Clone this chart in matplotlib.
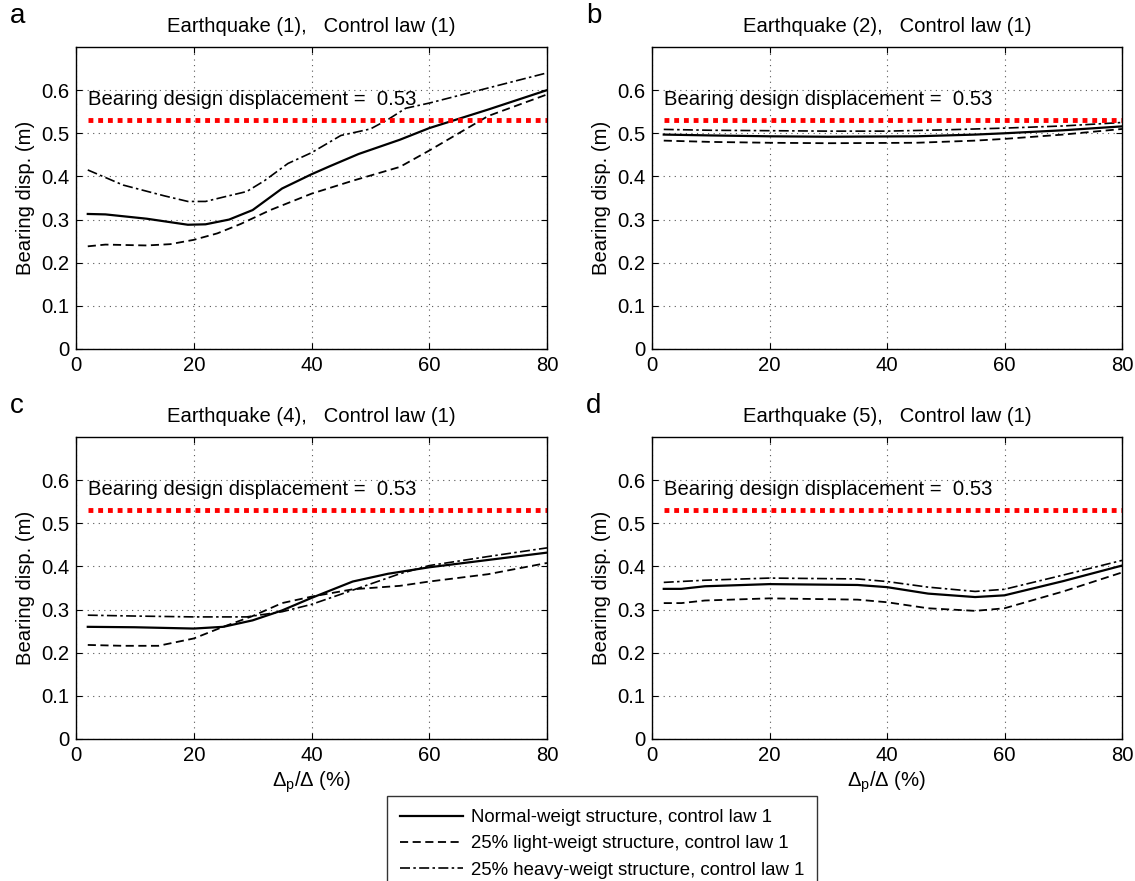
import matplotlib
matplotlib.use("Agg")
import matplotlib.pyplot as plt
from matplotlib.lines import Line2D

plt.rcParams['font.family'] = ['Liberation Sans', 'DejaVu Sans']
plt.rcParams['mathtext.fontset'] = 'custom'
plt.rcParams['mathtext.rm'] = 'Liberation Sans'
plt.rcParams['mathtext.it'] = 'Liberation Sans'
plt.rcParams['mathtext.default'] = 'regular'

# Panel a: Earthquake (1)
a_normal_x = [2, 5, 12, 19, 22, 26, 30, 35, 40, 43, 48, 55, 60, 70, 80]
a_normal_y = [0.313, 0.312, 0.302, 0.288, 0.289, 0.300, 0.322, 0.372, 0.405, 0.423, 0.452, 0.485, 0.512, 0.555, 0.600]
a_light_x = [2, 5, 12, 16, 20, 24, 28, 33, 40, 47, 55, 60, 65, 70, 80]
a_light_y = [0.238, 0.242, 0.240, 0.243, 0.253, 0.268, 0.290, 0.322, 0.360, 0.390, 0.422, 0.460, 0.500, 0.540, 0.590]
a_heavy_x = [2, 8, 15, 19, 22, 25, 29, 32, 36, 40, 45, 50, 53, 56, 60, 70, 80]
a_heavy_y = [0.415, 0.380, 0.355, 0.342, 0.342, 0.352, 0.365, 0.390, 0.430, 0.455, 0.495, 0.510, 0.532, 0.558, 0.570, 0.605, 0.640]

# Panel b: Earthquake (2)
b_normal_x = [2, 10, 20, 30, 45, 55, 60, 70, 80]
b_normal_y = [0.497, 0.495, 0.493, 0.492, 0.493, 0.497, 0.500, 0.507, 0.516]
b_light_x = [2, 10, 20, 30, 45, 55, 60, 70, 80]
b_light_y = [0.483, 0.480, 0.478, 0.477, 0.478, 0.483, 0.487, 0.497, 0.510]
b_heavy_x = [2, 10, 20, 30, 40, 50, 60, 70, 80]
b_heavy_y = [0.509, 0.507, 0.506, 0.505, 0.505, 0.508, 0.512, 0.517, 0.525]

# Panel c: Earthquake (4)
c_normal_x = [2, 10, 20, 25, 30, 35, 40, 47, 53, 60, 70, 80]
c_normal_y = [0.260, 0.259, 0.256, 0.260, 0.275, 0.298, 0.327, 0.365, 0.383, 0.398, 0.415, 0.432]
c_light_x = [2, 8, 14, 20, 25, 30, 35, 40, 47, 55, 60, 70, 80]
c_light_y = [0.218, 0.216, 0.216, 0.233, 0.260, 0.285, 0.315, 0.330, 0.347, 0.355, 0.365, 0.382, 0.408]
c_heavy_x = [2, 10, 20, 29, 35, 40, 47, 55, 60, 70, 80]
c_heavy_y = [0.287, 0.285, 0.283, 0.283, 0.295, 0.312, 0.345, 0.383, 0.402, 0.423, 0.443]

# Panel d: Earthquake (5)
d_normal_x = [2, 5, 9, 20, 35, 40, 47, 55, 60, 70, 80]
d_normal_y = [0.348, 0.348, 0.354, 0.359, 0.357, 0.352, 0.337, 0.329, 0.333, 0.366, 0.402]
d_light_x = [2, 5, 9, 20, 35, 40, 47, 55, 60, 70, 80]
d_light_y = [0.315, 0.315, 0.321, 0.326, 0.323, 0.317, 0.303, 0.297, 0.303, 0.342, 0.386]
d_heavy_x = [2, 9, 20, 35, 40, 47, 55, 60, 70, 80]
d_heavy_y = [0.363, 0.368, 0.373, 0.371, 0.365, 0.352, 0.342, 0.347, 0.380, 0.414]

design_disp = 0.53
design_x = [2, 80]
x_ticks = [0, 20, 40, 60, 80]
y_ticks = [0, 0.1, 0.2, 0.3, 0.4, 0.5, 0.6]
y_tick_labels = ['0', '0.1', '0.2', '0.3', '0.4', '0.5', '0.6']

panel_letters = ['a', 'b', 'c', 'd']
panel_titles = ['Earthquake (1),   Control law (1)', 'Earthquake (2),   Control law (1)',
                'Earthquake (4),   Control law (1)', 'Earthquake (5),   Control law (1)']
legend_labels = ['Normal-weigt structure, control law 1',
                 '25% light-weigt structure, control law 1',
                 '25% heavy-weigt structure, control law 1']

panels = [
    ((a_normal_x, a_normal_y), (a_light_x, a_light_y), (a_heavy_x, a_heavy_y)),
    ((b_normal_x, b_normal_y), (b_light_x, b_light_y), (b_heavy_x, b_heavy_y)),
    ((c_normal_x, c_normal_y), (c_light_x, c_light_y), (c_heavy_x, c_heavy_y)),
    ((d_normal_x, d_normal_y), (d_light_x, d_light_y), (d_heavy_x, d_heavy_y)),
]

W, H = 1135, 881
fig = plt.figure(figsize=(W / 100, H / 100), dpi=100)

# axes rectangles in pixels: left, right, top, bottom
rects = [(76, 547, 47, 349), (652, 1122, 47, 349), (76, 547, 437, 739), (652, 1122, 437, 739)]

styles = [dict(ls='-', lw=1.6), dict(ls=(0, (4.5, 2.5)), lw=1.3), dict(ls=(0, (6, 2, 1.5, 2)), lw=1.2)]

FS = 14.6
for i, ((l, r, t, b), series) in enumerate(zip(rects, panels)):
    ax = fig.add_axes([l / W, 1 - b / H, (r - l) / W, (b - t) / H])
    for (xs, ys), st in zip(series, styles):
        ax.plot(xs, ys, color='black', **st)
    ax.plot(design_x, [design_disp, design_disp], color='red', lw=3.5,
            ls=(0, (1, 1)), dash_capstyle='butt')
    ax.text(2, 0.578, 'Bearing design displacement =  0.53', fontsize=FS,
            va='center', ha='left')
    ax.set_xlim(0, 80)
    ax.set_ylim(0, 0.7)
    ax.set_xticks(x_ticks)
    ax.set_yticks(y_ticks)
    ax.set_yticklabels(y_tick_labels)
    ax.tick_params(direction='in', top=True, right=True, labelsize=FS, length=4, width=0.8,
                   pad=5)
    ax.grid(True, color='#555555', ls=(0, (1, 4)), lw=0.8)
    for sp in ax.spines.values():
        sp.set_linewidth(1.0)
    ax.set_ylabel('Bearing disp. (m)', fontsize=FS, labelpad=4)
    if i >= 2:
        ax.set_xlabel(r'$\Delta_p/\Delta$ (%)', fontsize=FS, labelpad=3)
    ax.set_title(panel_titles[i], fontsize=FS, pad=11)
    fig.text((l - 66) / W, 1 - (t - 31) / H, panel_letters[i], fontsize=20,
             ha='left', va='center')

handles = [Line2D([], [], color='black', **st) for st in styles]
leg = fig.legend(handles, legend_labels, loc='upper left',
                 bbox_to_anchor=(387 / W, 1 - 796 / H), fontsize=13.4,
                 frameon=True, fancybox=False, edgecolor='black', handlelength=3.4,
                 handletextpad=0.4, labelspacing=0.5, borderpad=0.7,
                 borderaxespad=0)
leg.get_frame().set_linewidth(1.0)

fig.savefig('out.png', dpi=100)
